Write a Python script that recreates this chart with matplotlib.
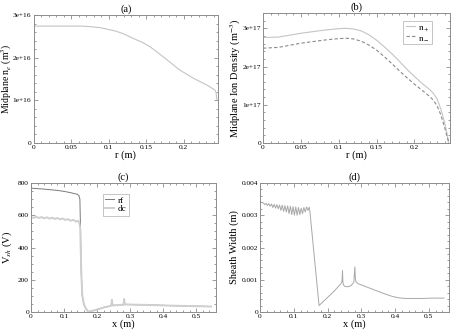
import matplotlib
matplotlib.use("Agg")
import matplotlib.pyplot as plt
from matplotlib.ticker import MultipleLocator, FixedLocator, FixedFormatter

plt.rcParams['font.family'] = ['Liberation Serif', 'DejaVu Serif']
plt.rcParams['mathtext.fontset'] = 'stix'

# ---------------- data ----------------
# (a) midplane electron density
r_a = [0, 0.02, 0.04, 0.06, 0.07, 0.08, 0.09, 0.10, 0.11, 0.12, 0.133, 0.145,
       0.155, 0.165, 0.178, 0.195, 0.213, 0.231, 0.242, 0.2435, 0.2445]
ne_a = [2.74e16, 2.74e16, 2.74e16, 2.74e16, 2.735e16, 2.72e16, 2.70e16, 2.66e16,
        2.62e16, 2.56e16, 2.45e16, 2.36e16, 2.26e16, 2.13e16, 1.95e16, 1.71e16,
        1.52e16, 1.36e16, 1.24e16, 1.18e16, 1.02e16]

# (b) midplane ion densities
r_b = [0, 0.02, 0.05, 0.08, 0.10, 0.11, 0.12, 0.13, 0.14, 0.15, 0.16, 0.17,
       0.18, 0.19, 0.20, 0.21, 0.22, 0.225, 0.23, 0.235, 0.24, 0.243, 0.245]
n_plus = [2.76e17, 2.77e17, 2.87e17, 2.95e17, 2.99e17, 3.00e17, 2.98e17, 2.93e17,
          2.83e17, 2.69e17, 2.52e17, 2.34e17, 2.14e17, 1.93e17, 1.74e17, 1.56e17,
          1.40e17, 1.30e17, 1.15e17, 0.88e17, 0.52e17, 0.25e17, 0.0]
n_minus = [2.48e17, 2.50e17, 2.61e17, 2.69e17, 2.73e17, 2.74e17, 2.72e17, 2.66e17,
           2.56e17, 2.43e17, 2.26e17, 2.08e17, 1.89e17, 1.71e17, 1.54e17, 1.38e17,
           1.22e17, 1.12e17, 0.97e17, 0.73e17, 0.40e17, 0.18e17, 0.05e17]

# (c) sheath voltage
x_rf = [0, 0.02, 0.04, 0.06, 0.08, 0.10, 0.12, 0.14, 0.145, 0.148, 0.150, 0.152,
        0.155, 0.16, 0.165, 0.17, 0.176, 0.18, 0.20, 0.22, 0.24, 0.243, 0.245,
        0.247, 0.25, 0.26, 0.27, 0.28, 0.282, 0.284, 0.29, 0.30, 0.35, 0.40,
        0.45, 0.50, 0.545]
v_rf = [768, 765, 762, 758, 754, 748, 740, 730, 722, 700, 500, 250,
        100, 50, 25, 10, 0, 4, 15, 28, 38, 40, 75,
        40, 41, 42, 44, 45, 80, 46, 47, 46, 44, 41,
        38, 36, 34]
x_dc = [0, 0.008, 0.016, 0.024, 0.032, 0.040, 0.048, 0.056, 0.064, 0.072, 0.080,
        0.088, 0.096, 0.104, 0.112, 0.120, 0.128, 0.136, 0.142, 0.146, 0.149,
        0.152, 0.155, 0.16, 0.165, 0.17, 0.176, 0.18, 0.20, 0.22, 0.24, 0.243,
        0.245, 0.247, 0.25, 0.26, 0.27, 0.28, 0.282, 0.284, 0.29, 0.30, 0.35,
        0.40, 0.45, 0.50, 0.545]
v_dc = [588, 584, 590, 583, 589, 581, 587, 579, 585, 577, 583, 574, 580, 571, 576,
        566, 572, 560, 566, 555, 520, 260, 110, 50, 25, 10, 0, 4, 15, 28, 38, 40,
        75, 40, 41, 42, 44, 45, 80, 46, 47, 46, 44, 41, 38, 36, 34]

# (d) sheath width
x_d = [0.000, 0.005, 0.010, 0.014, 0.018, 0.022, 0.026, 0.030, 0.034, 0.038,
       0.042, 0.046, 0.050, 0.054, 0.058, 0.062, 0.066, 0.070, 0.074, 0.078,
       0.082, 0.086, 0.090, 0.094, 0.098, 0.102, 0.106, 0.110, 0.114, 0.118,
       0.122, 0.126, 0.130, 0.134, 0.138, 0.142, 0.146, 0.148, 0.175, 0.20,
       0.22, 0.24, 0.243, 0.2445, 0.2455, 0.247, 0.25, 0.26, 0.27, 0.278,
       0.281, 0.2825, 0.284, 0.29, 0.31, 0.33, 0.35, 0.37, 0.39, 0.41, 0.43,
       0.45, 0.48, 0.51, 0.545]
w_d = [3.42e-3, 3.40e-3, 3.38e-3, 3.33e-3, 3.37e-3, 3.30e-3, 3.36e-3, 3.28e-3,
       3.35e-3, 3.24e-3, 3.34e-3, 3.22e-3, 3.33e-3, 3.20e-3, 3.32e-3, 3.15e-3,
       3.31e-3, 3.12e-3, 3.30e-3, 3.10e-3, 3.29e-3, 3.05e-3, 3.28e-3, 3.02e-3,
       3.27e-3, 3.00e-3, 3.26e-3, 3.00e-3, 3.24e-3, 3.02e-3, 3.22e-3, 3.05e-3,
       3.24e-3, 3.10e-3, 3.26e-3, 3.15e-3, 3.25e-3, 3.10e-3, 0.20e-3, 0.45e-3,
       0.65e-3, 0.88e-3, 0.95e-3, 1.28e-3, 0.95e-3, 0.85e-3, 0.80e-3, 0.78e-3,
       0.82e-3, 0.92e-3, 1.40e-3, 1.05e-3, 0.95e-3, 0.88e-3, 0.80e-3, 0.72e-3,
       0.64e-3, 0.56e-3, 0.49e-3, 0.44e-3, 0.42e-3, 0.42e-3, 0.42e-3, 0.43e-3,
       0.43e-3]

# tick labels
ticks_a = [0, 1e16, 2e16, 3e16]
labels_a = ['0', '1e+16', '2e+16', '3e+16']
ticks_b = [0, 1e17, 2e17, 3e17]
labels_b = ['0', '1e+17', '2e+17', '3e+17']
xt_ab = [0, 0.05, 0.1, 0.15, 0.2]
xl_ab = ['0', '0.05', '0.1', '0.15', '0.2']
xt_cd = [0, 0.1, 0.2, 0.3, 0.4, 0.5]
xl_cd = ['0', '0.1', '0.2', '0.3', '0.4', '0.5']
ticks_c = [0, 200, 400, 600, 800]
labels_c = ['0', '200', '400', '600', '800']
ticks_d = [0, 0.001, 0.002, 0.003, 0.004]
labels_d = ['0', '0.001', '0.002', '0.003', '0.004']

# ---------------- figure ----------------
W, H = 451, 332
fig = plt.figure(figsize=(W / 100, H / 100), dpi=100)

def px_axes(x0, y0, x1, y1):
    return fig.add_axes([x0 / W, 1 - y1 / H, (x1 - x0) / W, (y1 - y0) / H])

ax_a = px_axes(33.5, 15, 218, 143)
ax_b = px_axes(263, 13, 450, 143)
ax_c = px_axes(31, 183, 216, 312)
ax_d = px_axes(260, 183, 449, 312)

spine_col = '#8c8c8c'
tick_fs = 5.3
lab_fs = 7.5

def style(ax, xt, xl, yt, yl, xminor, yminor):
    ax.xaxis.set_major_locator(FixedLocator(xt))
    ax.xaxis.set_major_formatter(FixedFormatter(xl))
    ax.yaxis.set_major_locator(FixedLocator(yt))
    ax.yaxis.set_major_formatter(FixedFormatter(yl))
    ax.xaxis.set_minor_locator(MultipleLocator(xminor))
    ax.yaxis.set_minor_locator(MultipleLocator(yminor))
    ax.tick_params(which='both', direction='in', top=True, right=True,
                   color=spine_col, width=0.6, labelsize=tick_fs, pad=1.5)
    ax.tick_params(which='major', length=3)
    ax.tick_params(which='minor', length=1.5)
    for s in ax.spines.values():
        s.set_color(spine_col)
        s.set_linewidth(0.7)

def legend(ax, anchor):
    leg = ax.legend(loc='upper left', bbox_to_anchor=anchor, fontsize=6.5,
                    handlelength=1.0, handletextpad=0.4, borderpad=0.25,
                    labelspacing=0.05, borderaxespad=0, fancybox=False,
                    framealpha=1)
    leg.get_frame().set_edgecolor('#bbbbbb')
    leg.get_frame().set_linewidth(0.6)
    return leg

# (a)
ax_a.plot(r_a, ne_a, color='#c4c4c4', lw=0.8)
ax_a.set_xlim(0, 0.246)
ax_a.set_ylim(0, 3e16)
style(ax_a, xt_ab, xl_ab, ticks_a, labels_a, 0.01, 0.2e16)
ax_a.set_xlabel('r (m)', fontsize=lab_fs, labelpad=0)
ax_a.set_ylabel('Midplane n$_e$ (m$^3$)', fontsize=7)
ax_a.yaxis.set_label_coords(-0.108, 0.5)
ax_a.set_title('(a)', fontsize=lab_fs, pad=2)

# (b)
ax_b.plot(r_b, n_plus, color='#c4c4c4', lw=0.8, label='n$_+$')
ax_b.plot(r_b, n_minus, color='#8a8a8a', lw=0.8, ls=(0, (3, 2)), label='n$_-$')
ax_b.set_xlim(0, 0.247)
ax_b.set_ylim(0, 3.4e17)
style(ax_b, xt_ab, xl_ab, ticks_b, labels_b, 0.01, 0.2e17)
ax_b.set_xlabel('r (m)', fontsize=lab_fs, labelpad=0)
ax_b.set_ylabel('Midplane Ion Density (m$^{-3}$)', fontsize=lab_fs)
ax_b.yaxis.set_label_coords(-0.108, 0.5)
ax_b.set_title('(b)', fontsize=lab_fs, pad=2)
legend(ax_b, (0.75, 0.94))

# (c)
ax_c.plot(x_rf, v_rf, color='#7a7a7a', lw=0.7, label='rf')
ax_c.plot(x_dc, v_dc, color='#cfcfcf', lw=1.4, label='dc')
ax_c.set_xlim(0, 0.56)
ax_c.set_ylim(0, 800)
style(ax_c, xt_cd, xl_cd, ticks_c, labels_c, 0.02, 50)
ax_c.set_xlabel('x (m)', fontsize=lab_fs, labelpad=0)
ax_c.set_ylabel('V$_{sh}$ (V)', fontsize=lab_fs)
ax_c.yaxis.set_label_coords(-0.09, 0.5)
ax_c.set_title('(c)', fontsize=lab_fs, pad=2)
legend(ax_c, (0.39, 0.915))

# (d)
ax_d.plot(x_d, w_d, color='#a8a8a8', lw=0.7)
ax_d.set_xlim(0, 0.56)
ax_d.set_ylim(0, 0.004)
style(ax_d, xt_cd, xl_cd, ticks_d, labels_d, 0.02, 0.0002)
ax_d.set_xlabel('x (m)', fontsize=lab_fs, labelpad=0)
ax_d.set_ylabel('Sheath Width (m)', fontsize=lab_fs)
ax_d.yaxis.set_label_coords(-0.112, 0.5)
ax_d.set_title('(d)', fontsize=lab_fs, pad=2)

fig.savefig('out.png', dpi=100)
